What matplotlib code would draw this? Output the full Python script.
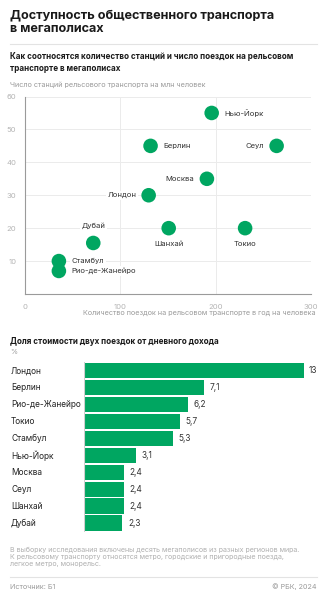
import matplotlib
matplotlib.use("Agg")
import matplotlib.pyplot as plt
from matplotlib.lines import Line2D

plt.rcParams["font.family"] = ["Inter", "DejaVu Sans"]

W, H = 328, 600
GREEN = "#00a661"
GRAY = "#9a9a9a"
DARK = "#1a1a1a"

# scatter: rail trips per person per year vs stations per million people
cities = ["Нью-Йорк", "Берлин", "Сеул", "Москва", "Лондон",
          "Шанхай", "Токио", "Дубай", "Стамбул", "Рио-де-Жанейро"]
trips = [196, 132, 264, 191, 130, 151, 231, 72, 36, 36]
stations = [55, 45, 45, 35, 30, 20, 20, 15.5, 10, 7]
label_pos = ["right", "right", "left", "left", "left",
             "below", "below", "above", "right", "right"]

# bars: cost of two trips as share of daily income, %
bar_cities = ["Лондон", "Берлин", "Рио-де-Жанейро", "Токио", "Стамбул",
              "Нью-Йорк", "Москва", "Сеул", "Шанхай", "Дубай"]
bar_values = [13, 7.1, 6.2, 5.7, 5.3, 3.1, 2.4, 2.4, 2.4, 2.3]


def px_axes(fig, x0, y0, x1, y1):
    """Axes from pixel box (top-left origin)."""
    return fig.add_axes([x0 / W, 1 - y1 / H, (x1 - x0) / W, (y1 - y0) / H])


def ptext(fig, x, y, s, **kw):
    fig.text(x / W, 1 - y / H, s, **kw)


fig = plt.figure(figsize=(W / 100, H / 100), dpi=100)

ptext(fig, 10, 9.5, "Доступность общественного транспорта\nв мегаполисах",
      fontsize=9.1, fontweight="bold", color=DARK, va="top", linespacing=1.15)
fig.add_artist(Line2D([10 / W, 317 / W], [1 - 43.5 / H] * 2, color="#e3e3e3", lw=0.8))

ptext(fig, 10, 52, "Как соотносятся количество станций и число поездок на рельсовом\nтранспорте в мегаполисах",
      fontsize=5.8, fontweight="bold", color=DARK, va="top", linespacing=1.4)
ptext(fig, 10, 85, "Число станций рельсового транспорта на млн человек",
      fontsize=5.2, color=GRAY, va="center")

# --- scatter ---
ax = px_axes(fig, 24.5, 96.5, 311, 294)
ax.set_xlim(0, 300)
ax.set_ylim(0, 60)
ax.set_xticks([0, 100, 200, 300])
ax.set_yticks([10, 20, 30, 40, 50, 60])
ax.grid(True, color="#ebebeb", lw=0.7)
ax.set_axisbelow(True)
for s in ("top", "right"):
    ax.spines[s].set_visible(False)
for s in ("left", "bottom"):
    ax.spines[s].set_color("#9a9a9a")
    ax.spines[s].set_linewidth(0.8)
ax.tick_params(length=0, labelsize=5.5, labelcolor="#b5b5b5", pad=3)
ax.tick_params(axis="x", pad=7)
ax.tick_params(axis="y", pad=6)
ax.scatter(trips, stations, s=110, color=GREEN, edgecolor="none", zorder=3, clip_on=False)

offsets = {"right": (9, 0, "left", "center"), "left": (-9, 0, "right", "center"),
           "above": (0, 10, "center", "bottom"), "below": (0, -9, "center", "top")}
for name, x, y, pos in zip(cities, trips, stations, label_pos):
    dx, dy, ha, va = offsets[pos]
    ax.annotate(name, (x, y), xytext=(dx, dy), textcoords="offset points",
                ha=ha, va=va, fontsize=5.5, color="#333333", zorder=4,
                bbox=dict(boxstyle="square,pad=0.2", fc="white", ec="none"))

ptext(fig, 316, 313, "Количество поездок на рельсовом транспорте в год на человека",
      fontsize=5.2, color=GRAY, ha="right", va="center")

# --- bars ---
ptext(fig, 10, 342, "Доля стоимости двух поездок от дневного дохода",
      fontsize=5.8, fontweight="bold", color=DARK, va="center")
ptext(fig, 10, 352, "%", fontsize=5.2, color=GRAY, va="center")

bx = px_axes(fig, 83.5, 362.2, 303.5, 531.5)
ypos = list(range(len(bar_cities)))
bx.barh(ypos, bar_values, height=0.9, color=GREEN, edgecolor="none")
bx.set_xlim(0, 13)
bx.set_ylim(len(bar_cities) - 0.5, -0.5)
bx.axis("off")
bx.axvline(0, color="#cfcfcf", lw=0.8)
for yv, v in zip(ypos, bar_values):
    bx.annotate(f"{v:g}".replace(".", ","), (v, yv), xytext=(4, 0), textcoords="offset points",
                ha="left", va="center", fontsize=6, color="#333333")
for yv, name in zip(ypos, bar_cities):
    bx.annotate(name, (0, yv), xycoords=("axes fraction", "data"),
                xytext=(-72.5, 0), textcoords="offset pixels",
                ha="left", va="center", fontsize=6, color="#222222")

ptext(fig, 10, 546.5,
      "В выборку исследования включены десять мегаполисов из разных регионов мира.\n"
      "К рельсовому транспорту относятся метро, городские и пригородные поезда,\n"
      "легкое метро, монорельс.",
      fontsize=5.1, color="#b0b0b0", va="top", linespacing=1.25)
fig.add_artist(Line2D([10 / W, 317 / W], [1 - 577 / H] * 2, color="#e3e3e3", lw=0.8))
ptext(fig, 10, 587, "Источник: Б1", fontsize=5.2, color=GRAY, va="center")
ptext(fig, 317, 587, "© РБК, 2024", fontsize=5.2, color=GRAY, ha="right", va="center")

fig.savefig("out.png", dpi=100)
